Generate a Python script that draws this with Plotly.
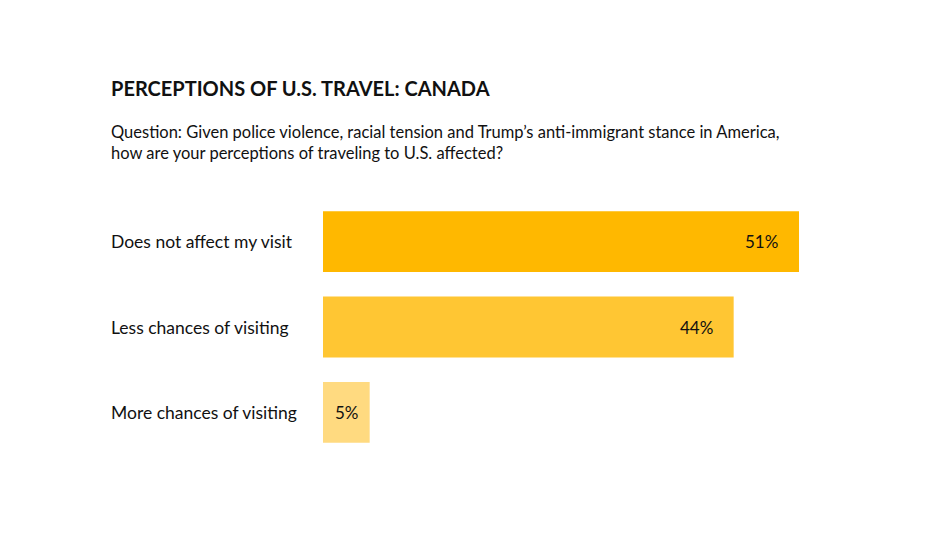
import plotly.graph_objects as go

categories = ["Does not affect my visit", "Less chances of visiting", "More chances of visiting"]
values = [51, 44, 5]
colors = ["#FFB800", "#FFC633", "#FFDA80"]

fig = go.Figure(go.Bar(
    y=categories, x=values, orientation="h", marker=dict(color=colors, line_width=0),
    hoverinfo="skip"))

fig.update_yaxes(autorange="reversed", showticklabels=False, showgrid=False, zeroline=False)
fig.update_xaxes(range=[0, 51], visible=False)

ann = []
for c, v in zip(categories, values):
    ann.append(dict(x=0, y=c, xref="x", yref="y", text=c, showarrow=False,
                    xanchor="left", xshift=-214, font=dict(size=17.5, color="#111")))
    ann.append(dict(x=v, y=c, xref="x", yref="y", text=f"{v}%", showarrow=False,
                    xanchor="right", xshift=-19 if v > 10 else -9,
                    font=dict(size=17, color="#111")))
fig.update_layout(
    width=933, height=533, margin=dict(l=315, r=142, t=191, b=86),
    paper_bgcolor="white", plot_bgcolor="white", bargap=0.287, showlegend=False,
    font=dict(family="Lato, Open Sans, sans-serif"),
    annotations=ann + [
        dict(xref="paper", yref="paper", x=-214/476, y=1 + (199-88)/256.5, xanchor="left", yanchor="middle",
             text="<b>PERCEPTIONS OF U.S. TRAVEL: CANADA</b>", showarrow=False,
             font=dict(size=20, color="#111")),
        dict(xref="paper", yref="paper", x=-214/476, y=1 + (199-142)/256.5, xanchor="left", yanchor="middle",
             align="left", showarrow=False, font=dict(size=16.5, color="#111"),
             text="Question: Given police violence, racial tension and Trump’s anti-immigrant stance in America,<br>how are your perceptions of traveling to U.S. affected?"),
    ],
)
fig.write_html("out.html")
